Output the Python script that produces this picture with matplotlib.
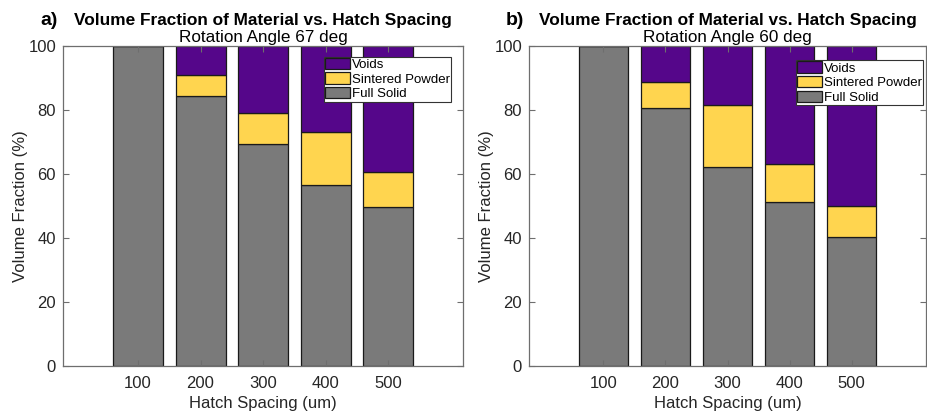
import matplotlib
matplotlib.use("Agg")
import matplotlib.pyplot as plt
import numpy as np

# Hatch spacing (um)
hatch = [100, 200, 300, 400, 500]

# Rotation angle 67 deg (volume fraction, %)
solid_67 = [100.0, 84.4, 69.2, 56.6, 49.5]
powder_67 = [0.0, 6.6, 9.8, 16.4, 11.2]
voids_67 = [0.0, 9.0, 21.0, 27.0, 39.3]

# Rotation angle 60 deg (volume fraction, %)
solid_60 = [100.0, 80.4, 62.0, 51.2, 40.2]
powder_60 = [0.0, 8.2, 19.5, 11.9, 9.8]
voids_60 = [0.0, 11.4, 18.5, 36.9, 50.0]

C_SOLID = "#7a7a7a"
C_POWDER = "#ffd54f"
C_VOIDS = "#55068a"
EDGE = "#1a1a1a"
AXCOL = "#6e6e6e"
TXT = "#262626"

plt.rcParams["font.family"] = ["Liberation Sans", "DejaVu Sans"]

fig = plt.figure(figsize=(9.28, 4.15), dpi=100)
ax_a = fig.add_axes([63 / 928, 1 - 366 / 415, 400 / 928, 320.3 / 415])
ax_b = fig.add_axes([529 / 928, 1 - 366 / 415, 397 / 928, 320.3 / 415])


def draw_panel(ax, solid, powder, voids, letter, angle, leg_anchor):
    x = np.array(hatch)
    s = np.array(solid)
    p = np.array(powder)
    v = np.array(voids)
    kw = dict(width=80, edgecolor=EDGE, linewidth=0.9)
    b1 = ax.bar(x, s, color=C_SOLID, label="Full Solid", **kw)
    b2 = ax.bar(x, p, bottom=s, color=C_POWDER, label="Sintered Powder", **kw)
    b3 = ax.bar(x, v, bottom=s + p, color=C_VOIDS, label="Voids", **kw)

    ax.set_xlim(-20, 620)
    ax.set_ylim(0, 100)
    ax.set_xticks(hatch)
    ax.set_yticks([0, 20, 40, 60, 80, 100])
    ax.tick_params(direction="in", top=True, right=True, length=4,
                   width=0.8, colors=AXCOL, labelcolor=TXT, labelsize=12)
    ax.tick_params(axis="x", pad=7)
    ax.tick_params(axis="y", pad=5)
    for sp in ax.spines.values():
        sp.set_color(AXCOL)
        sp.set_linewidth(0.9)

    ax.set_xlabel("Hatch Spacing (um)", fontsize=12, color=TXT, labelpad=3.5)
    ax.set_ylabel("Volume Fraction (%)", fontsize=12, color=TXT, labelpad=0)

    ax.text(0.5, 1.080, "Volume Fraction of Material vs. Hatch Spacing",
            transform=ax.transAxes, ha="center", va="center",
            fontsize=12.4, fontweight="bold", color="black")
    ax.text(0.5, 1.027, f"Rotation Angle {angle} deg",
            transform=ax.transAxes, ha="center", va="center",
            fontsize=12.3, color="black")
    ax.text(-0.035, 1.080, letter, transform=ax.transAxes, ha="center",
            va="center", fontsize=14, fontweight="bold", color="black")

    leg = ax.legend([b3, b2, b1], ["Voids", "Sintered Powder", "Full Solid"],
                    loc="upper right", bbox_to_anchor=leg_anchor,
                    borderaxespad=0, fontsize=9.5, frameon=True,
                    fancybox=False, borderpad=0.1, labelspacing=0.1,
                    handlelength=1.9, handleheight=0.95, handletextpad=0.1)
    fr = leg.get_frame()
    fr.set_edgecolor("#333333")
    fr.set_linewidth(0.8)
    fr.set_alpha(1)


draw_panel(ax_a, solid_67, powder_67, voids_67, "a)", 67, (0.97, 0.966))
draw_panel(ax_b, solid_60, powder_60, voids_60, "b)", 60, (0.992, 0.955))

fig.savefig("out.png", dpi=100)
